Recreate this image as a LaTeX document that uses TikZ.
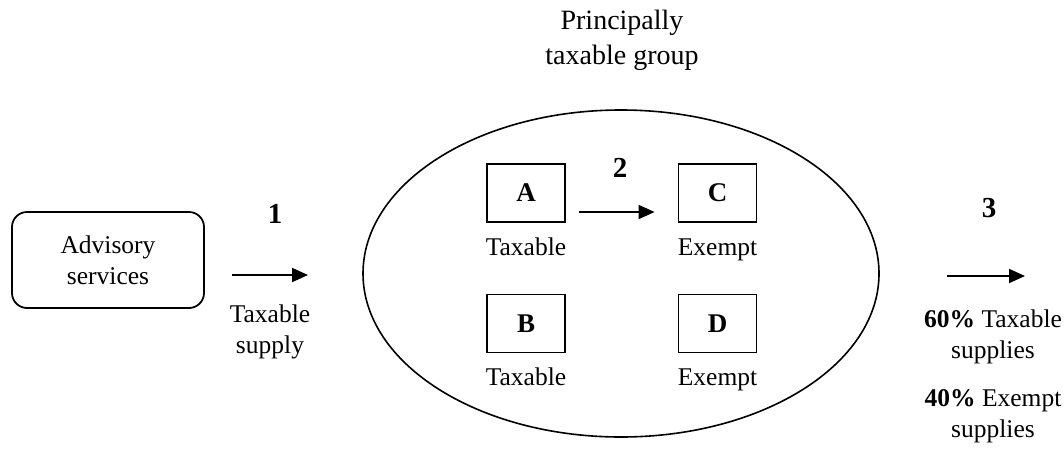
\documentclass[tikz,border=0pt]{standalone}
\usepackage{fontspec}
\setmainfont{Liberation Serif}
\usetikzlibrary{arrows.meta,shapes.geometric}
\begin{document}
\begin{tikzpicture}[x=1pt,y=-1pt,
  txt/.style={font=\fontsize{25.5}{31}\selectfont, align=center, inner sep=0pt},
  lbl/.style={font=\fontsize{29}{31}\selectfont\bfseries, inner sep=0pt},
  letterbox/.style={draw, line width=1.8pt, minimum width=78pt, minimum height=58pt, font=\fontsize{27}{31}\selectfont\bfseries, inner sep=0pt},
  flow/.style={line width=1.8pt, -{Triangle[length=16pt,width=14pt]}}]
\useasboundingbox (0,0) rectangle (1064,455);
% title
\node[txt, font=\fontsize{28}{35}\selectfont] (title) at (622,40) {Principally\\taxable group};
% advisory box
\node[draw, rounded corners=15pt, line width=1.8pt, minimum width=192pt, minimum height=96pt, txt] (adv) at (108,260) {Advisory\\services};
% arrow 1
\coordinate (a1s) at (232,275);
\coordinate (a1e) at (308,275);
\draw[flow] (a1s) -- (a1e);
\node[lbl] (n1) at (275,214) {1};
\node[txt] (ts) at (270,332) {Taxable\\supply};
% ellipse
\node[draw, ellipse, line width=1.6pt, minimum width=516pt, minimum height=327pt, inner sep=0pt] (grp) at (621,273.5) {};
% boxes
\node[letterbox] (A) at (526,193) {A};
\node[letterbox] (C) at (717.5,193) {C};
\node[letterbox] (B) at (526,323.5) {B};
\node[letterbox] (D) at (717.5,323.5) {D};
\node[txt, anchor=base] (tA) at (526,255) {Taxable};
\node[txt, anchor=base] (tC) at (717.5,255) {Exempt};
\node[txt, anchor=base] (tB) at (526,385) {Taxable};
\node[txt, anchor=base] (tD) at (717.5,385) {Exempt};
\draw[flow] ([xshift=13pt,yshift=-19pt]A.east) -- ([xshift=-23pt,yshift=-19pt]C.west);
\node[lbl] (n2) at (620,168) {2};
% arrow 3
\coordinate (a3s) at (947,276);
\coordinate (a3e) at (1025,276);
\draw[flow] (a3s) -- (a3e);
\node[lbl] (n3) at (989,208) {3};
\node[txt] (s60) at (993,337) {\textbf{60\%} Taxable\\supplies};
\node[txt] (s40) at (993,416) {\textbf{40\%} Exempt\\supplies};
\end{tikzpicture}
\end{document}
